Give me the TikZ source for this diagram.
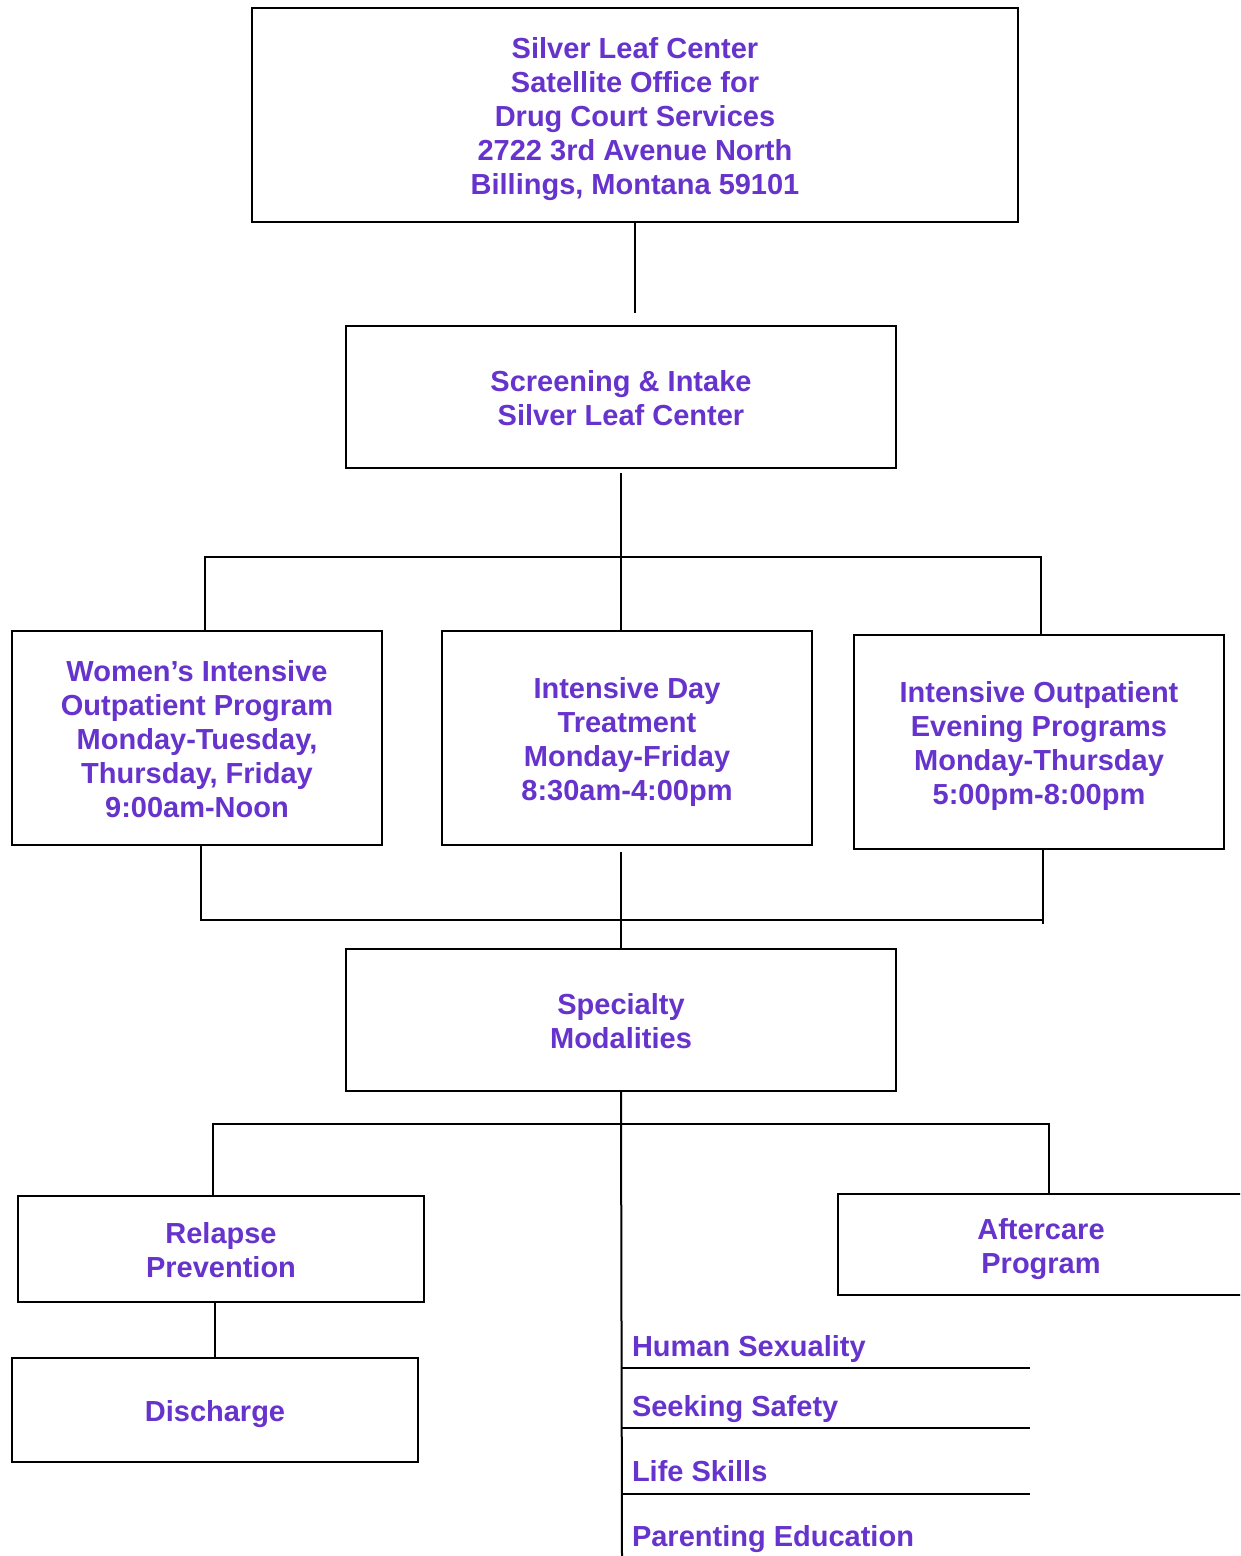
\documentclass[tikz,border=0pt]{standalone}
\usepackage{fontspec}
\setmainfont{Liberation Sans}
\definecolor{txt}{RGB}{102,51,204}
\begin{document}
\begin{tikzpicture}[x=1pt,y=-1pt,line width=2pt,
  box/.style={draw,rectangle,inner sep=0pt},
  tx/.style={inner sep=0pt,align=center,text=txt,
    font=\fontsize{29}{34}\selectfont\bfseries},
  item/.style={anchor=base west,inner sep=0pt,text=txt,
    font=\fontsize{29}{34}\selectfont\bfseries}]
\useasboundingbox (0,0) rectangle (1240,1556);
\clip (0,0) rectangle (1240,1556);
% boxes
\node[box,minimum width=766pt,minimum height=214pt] (b1) at (635,115) {};
\node[tx] (b1t) at ([yshift=-4.5pt]b1.center)
  {Silver Leaf Center\\Satellite Office for\\Drug Court Services\\2722 3rd Avenue North\\Billings, Montana 59101};
\node[box,minimum width=550pt,minimum height=142pt] (b2) at (621,397) {};
\node[tx] (b2t) at ([yshift=-1pt]b2.center) {Screening \& Intake\\Silver Leaf Center};
\node[box,minimum width=370pt,minimum height=214pt] (b3) at (197,738) {};
\node[tx] (b3t) at ([yshift=-1pt]b3.center)
  {Women’s Intensive\\Outpatient Program\\Monday-Tuesday,\\Thursday, Friday\\9:00am-Noon};
\node[box,minimum width=370pt,minimum height=214pt] (b4) at (627,738) {};
\node[tx] (b4t) at ([yshift=-4pt]b4.center)
  {Intensive Day\\Treatment\\Monday-Friday\\8:30am-4:00pm};
\node[box,minimum width=370pt,minimum height=214pt] (b5) at (1039,742) {};
\node[tx] (b5t) at ([yshift=-4pt]b5.center)
  {Intensive Outpatient\\Evening Programs\\Monday-Thursday\\5:00pm-8:00pm};
\node[box,minimum width=550pt,minimum height=142pt] (b6) at (621,1020) {};
\node[tx] (b6t) at ([yshift=-1pt]b6.center) {Specialty\\Modalities};
\node[box,minimum width=406pt,minimum height=106pt] (b7) at (221,1249) {};
\node[tx] (b7t) at ([yshift=-1pt]b7.center) {Relapse\\Prevention};
\node[box,minimum width=406pt,minimum height=104pt] (b8) at (215,1410) {};
\node[tx] (b8t) at ([yshift=-4pt]b8.center) {Discharge};
\node[box,minimum width=406pt,minimum height=101pt] (b9) at (1041,1244.5) {};
\node[tx] (b9t) at ([yshift=-5pt]b9.center) {Aftercare\\Program};
% list items
\node[item] (i1) at (631,1356) {Human Sexuality};
\node[item] (i2) at (631,1416) {Seeking Safety};
\node[item] (i3) at (631,1481) {Life Skills};
\node[item] (i4) at (631,1546) {Parenting Education};
% connectors
\coordinate (j1) at (635,313);
\draw (b1.south) -- (j1);
\coordinate (t2) at (621,473);
\draw (t2) -- (t2 |- b4.north);
\coordinate (h1l) at (205,557);
\coordinate (h1r) at (1041,557);
\draw (h1l |- b3.north) -- (h1l) -- (h1r) -- (h1r |- b5.north);
\coordinate (h2l) at (201,920);
\coordinate (h2r) at (1043,920);
\coordinate (h2rb) at (1043,924);
\draw (h2l |- b3.south) -- (h2l) -- (h2r);
\draw (h2r |- b5.south) -- (h2rb);
\coordinate (m2) at (621,852);
\draw (m2) -- (b6.north);
\coordinate (bot) at (622,1556);
\draw (b6.south) -- (bot);
\coordinate (h3l) at (213,1124);
\coordinate (h3r) at (1049,1124);
\draw (h3l |- b7.north) -- (h3l) -- (h3r) -- (h3r |- b9.north);
\coordinate (d1) at (215,1302);
\draw (d1) -- (d1 |- b8.north);
\coordinate (l1) at (622,1368);
\coordinate (l2) at (622,1428);
\coordinate (l3) at (622,1494);
\draw (l1) -- ++(408,0);
\draw (l2) -- ++(408,0);
\draw (l3) -- ++(408,0);
\end{tikzpicture}
\end{document}
